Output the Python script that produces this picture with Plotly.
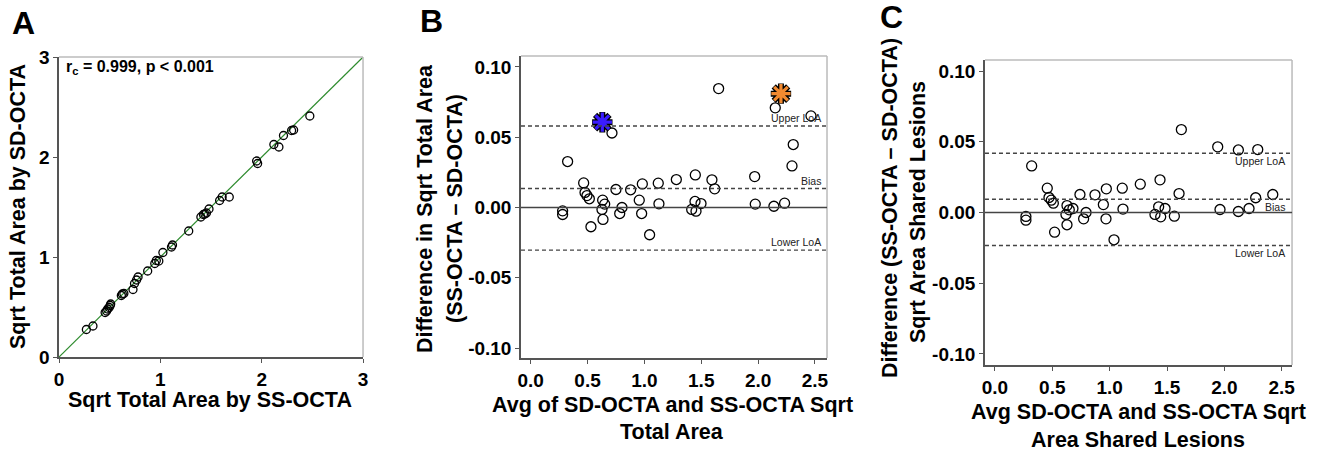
import plotly.graph_objects as go

# ---------------- Data ----------------
# Panel A: Sqrt total area, SS-OCTA (x) vs SD-OCTA (y)
a_ss = [0.27, 0.335, 0.455, 0.47, 0.48, 0.495, 0.505, 0.51, 0.615, 0.625, 0.64,
        0.73, 0.745, 0.765, 0.78, 0.875, 0.945, 0.96, 0.985, 1.025, 1.11, 1.12,
        1.28, 1.40, 1.425, 1.44, 1.455, 1.48, 1.585, 1.61, 1.68, 1.95, 1.96,
        2.12, 2.17, 2.215, 2.295, 2.315, 2.475]
a_sd = [0.275, 0.31, 0.445, 0.46, 0.48, 0.495, 0.515, 0.53, 0.615, 0.63, 0.635,
        0.675, 0.735, 0.77, 0.80, 0.86, 0.935, 0.965, 0.96, 1.045, 1.10, 1.12,
        1.26, 1.40, 1.425, 1.43, 1.44, 1.48, 1.565, 1.60, 1.60, 1.96, 1.935,
        2.125, 2.10, 2.215, 2.265, 2.27, 2.41]
a_text = "r<sub>c</sub> = 0.999, p < 0.001"

# Panel B: Bland-Altman, total area
b_avg = [0.281, 0.281, 0.325, 0.466, 0.478, 0.495, 0.516, 0.530, 0.633, 0.651,
         0.627, 0.636, 0.715, 0.750, 0.783, 0.803, 0.879, 0.955, 0.982, 0.976,
         1.046, 1.122, 1.128, 1.281, 1.416, 1.448, 1.445, 1.454, 1.498, 1.594,
         1.618, 1.653, 1.970, 1.975, 2.139, 2.151, 2.233, 2.298, 2.309, 2.465]
b_diff = [-0.0024, -0.0050, 0.0327, 0.0175, 0.0107, 0.0085, 0.0062, -0.0137, 0.0052, 0.0024,
          -0.0014, -0.0085, 0.0530, 0.0128, -0.0043, 0.0000, 0.0126, 0.0052, 0.0168, -0.0043,
          -0.0194, 0.0173, 0.0026, 0.0199, -0.0014, 0.0232, 0.0043, -0.0026, 0.0028, 0.0197,
          0.0133, 0.0846, 0.0220, 0.0024, 0.0009, 0.0709, 0.0031, 0.0296, 0.0448, 0.0652]
b_star_blue = (0.630, 0.0607)
b_star_orange = (2.201, 0.0810)
b_upper, b_bias, b_lower = 0.0580, 0.0135, -0.0303

# Panel C: Bland-Altman, shared lesions
c_avg = [0.270, 0.270, 0.320, 0.456, 0.471, 0.491, 0.509, 0.520, 0.628, 0.648,
         0.619, 0.628, 0.680, 0.741, 0.773, 0.794, 0.872, 0.945, 0.971, 0.968,
         1.038, 1.110, 1.116, 1.267, 1.395, 1.439, 1.427, 1.445, 1.483, 1.564,
         1.605, 1.625, 1.942, 1.962, 2.122, 2.122, 2.215, 2.273, 2.291, 2.422]
c_diff = [-0.0028, -0.0054, 0.0329, 0.0172, 0.0106, 0.0087, 0.0066, -0.0139, 0.0049, 0.0019,
          -0.0014, -0.0087, 0.0028, 0.0127, -0.0045, 0.0000, 0.0125, 0.0056, 0.0167, -0.0045,
          -0.0193, 0.0172, 0.0024, 0.0200, -0.0014, 0.0231, 0.0040, -0.0031, 0.0028, -0.0026,
          0.0134, 0.0586, 0.0464, 0.0021, 0.0442, 0.0007, 0.0028, 0.0104, 0.0445, 0.0127]
c_upper, c_bias, c_lower = 0.0419, 0.0094, -0.0233

ticks_a = [0, 1, 2, 3]
ticks_ba_x = [0.0, 0.5, 1.0, 1.5, 2.0, 2.5]
ticks_ba_x_text = ["0.0", "0.5", "1.0", "1.5", "2.0", "2.5"]
ticks_ba_y = [-0.10, -0.05, 0.0, 0.05, 0.10]
ticks_ba_y_text = ["-0.10", "-0.05", "0.00", "0.05", "0.10"]

# ---------------- Figure ----------------
FONT = "Liberation Sans"
W, H = 1323, 451
fig = go.Figure()

circle = dict(symbol="circle-open", color="black", line=dict(width=1.3, color="black"))

# Panel A
fig.add_trace(go.Scatter(x=[0, 3], y=[0, 3], mode="lines",
                         line=dict(color="#2e8b2e", width=1.2), xaxis="x", yaxis="y",
                         hoverinfo="skip"))
fig.add_trace(go.Scatter(x=a_ss, y=a_sd, mode="markers", marker=dict(size=8, **circle),
                         xaxis="x", yaxis="y"))

# Panel B
fig.add_trace(go.Scatter(x=b_avg, y=b_diff, mode="markers", marker=dict(size=10, **circle),
                         xaxis="x2", yaxis="y2"))
for (sx, sy), col in [(b_star_blue, "#3a1cff"), (b_star_orange, "#f28a30")]:
    fig.add_trace(go.Scatter(x=[sx], y=[sy], mode="markers",
                             marker=dict(symbol="asterisk-open", size=17, color="black",
                                         line=dict(width=6, color="black")),
                             xaxis="x2", yaxis="y2"))
    fig.add_trace(go.Scatter(x=[sx], y=[sy], mode="markers",
                             marker=dict(symbol="asterisk-open", size=16, color=col,
                                         line=dict(width=3.2, color=col)),
                             xaxis="x2", yaxis="y2"))

# Panel C
fig.add_trace(go.Scatter(x=c_avg, y=c_diff, mode="markers", marker=dict(size=10, **circle),
                         xaxis="x3", yaxis="y3"))

tickfont = dict(family=FONT, size=19, color="black", weight="bold")
axline = dict(showline=True, linecolor="#555", linewidth=1.5, ticks="outside",
              ticklen=4, tickcolor="#555", tickwidth=1, showgrid=False, zeroline=False,
              tickfont=tickfont, mirror=False, automargin=False)

fig.update_layout(
    template="none",
    width=W, height=H, margin=dict(l=0, r=0, t=0, b=0, pad=0),
    paper_bgcolor="white", plot_bgcolor="white", showlegend=False,
    xaxis=dict(domain=[0.0446, 0.2744], range=[0, 3], tickvals=ticks_a, anchor="y", **axline),
    yaxis=dict(domain=[0.2084, 0.8736], range=[0, 3], tickvals=ticks_a, anchor="x", **axline),
    xaxis2=dict(domain=[0.3938, 0.6251], range=[-0.085, 2.606], tickvals=ticks_ba_x,
                ticktext=ticks_ba_x_text, anchor="y2", **axline),
    yaxis2=dict(domain=[0.2062, 0.8758], range=[-0.1071, 0.1078], tickvals=ticks_ba_y,
                ticktext=ticks_ba_y_text, anchor="x2", **axline),
    xaxis3=dict(domain=[0.7445, 0.9766], range=[-0.087, 2.59], tickvals=ticks_ba_x,
                ticktext=ticks_ba_x_text, anchor="y3", **axline),
    yaxis3=dict(domain=[0.1907, 0.867], range=[-0.1078, 0.1078], tickvals=ticks_ba_y,
                ticktext=ticks_ba_y_text, anchor="x3", **axline),
)

shapes = []
# light grey frame top/right
for xs, ys in [("x", "y"), ("x2", "y2"), ("x3", "y3")]:
    shapes.append(dict(type="line", xref=f"{xs} domain", yref=f"{ys} domain",
                       x0=0, x1=1, y0=1, y1=1, line=dict(color="#bbbbbb", width=1.5)))
    shapes.append(dict(type="line", xref=f"{xs} domain", yref=f"{ys} domain",
                       x0=1, x1=1, y0=0, y1=1, line=dict(color="#bbbbbb", width=1.5)))
# zero lines + LoA lines
for xs, ys, vals in [("x2", "y2", (b_upper, b_bias, b_lower)),
                     ("x3", "y3", (c_upper, c_bias, c_lower))]:
    shapes.append(dict(type="line", xref=f"{xs} domain", yref=ys, x0=0, x1=1, y0=0, y1=0,
                       line=dict(color="#444", width=1.5)))
    for v in vals:
        shapes.append(dict(type="line", xref=f"{xs} domain", yref=ys, x0=0, x1=1, y0=v, y1=v,
                           line=dict(color="#444", width=1.4, dash="4px,3px")))
fig.update_layout(shapes=shapes)

ann = []
def txt(x, y, s, size=21.5, angle=0, xanchor="center", yanchor="middle", weight="bold",
        xref="paper", yref="paper", color="black"):
    ann.append(dict(x=x, y=y, xref=xref, yref=yref, text=s, showarrow=False,
                    textangle=angle, xanchor=xanchor, yanchor=yanchor,
                    font=dict(family=FONT, size=size, color=color, weight=weight)))

def px(xp):
    return xp / W

def py(yp):
    return 1 - yp / H

# panel letters
txt(px(23), py(23), "A", size=32)
txt(px(431), py(21), "B", size=32)
txt(px(891), py(17), "C", size=32)

# panel A
txt(px(64), py(68), a_text, size=16, xanchor="left")
txt(px(18), py(207), "Sqrt Total Area by SD-OCTA", angle=-90)
txt(px(210), py(400), "Sqrt Total Area by SS-OCTA")

# panel B
txt(px(425), py(208), "Difference in Sqrt Total Area", angle=-90)
txt(px(455), py(209), "(SS-OCTA \u2013 SD-OCTA)", angle=-90)
txt(px(672), py(405), "Avg of SD-OCTA and SS-OCTA Sqrt")
txt(px(672), py(432), "Total Area")

# panel C
txt(px(890), py(208), "Difference (SS-OCTA \u2013 SD-OCTA)", angle=-90)
txt(px(918), py(212), "Sqrt Area Shared Lesions", angle=-90)
txt(px(1138), py(412), "Avg SD-OCTA and SS-OCTA Sqrt")
txt(px(1138), py(440), "Area Shared Lesions")

# LoA labels
for v, s in [(b_upper, "Upper LoA"), (b_bias, "Bias"), (b_lower, "Lower LoA")]:
    txt(0.988, v, s, size=10.5, xanchor="right", yanchor="bottom", weight="normal",
        xref="x2 domain", yref="y2", color="#222")
for v, s in [(c_upper, "Upper LoA"), (c_bias, "Bias"), (c_lower, "Lower LoA")]:
    txt(0.984, v, s, size=10.5, xanchor="right", yanchor="top", weight="normal",
        xref="x3 domain", yref="y3", color="#222")

fig.update_layout(annotations=ann)
fig.write_html("out.html", config={"displayModeBar": False},
               post_script="document.body.style.margin='0';document.body.style.overflow='hidden';")
